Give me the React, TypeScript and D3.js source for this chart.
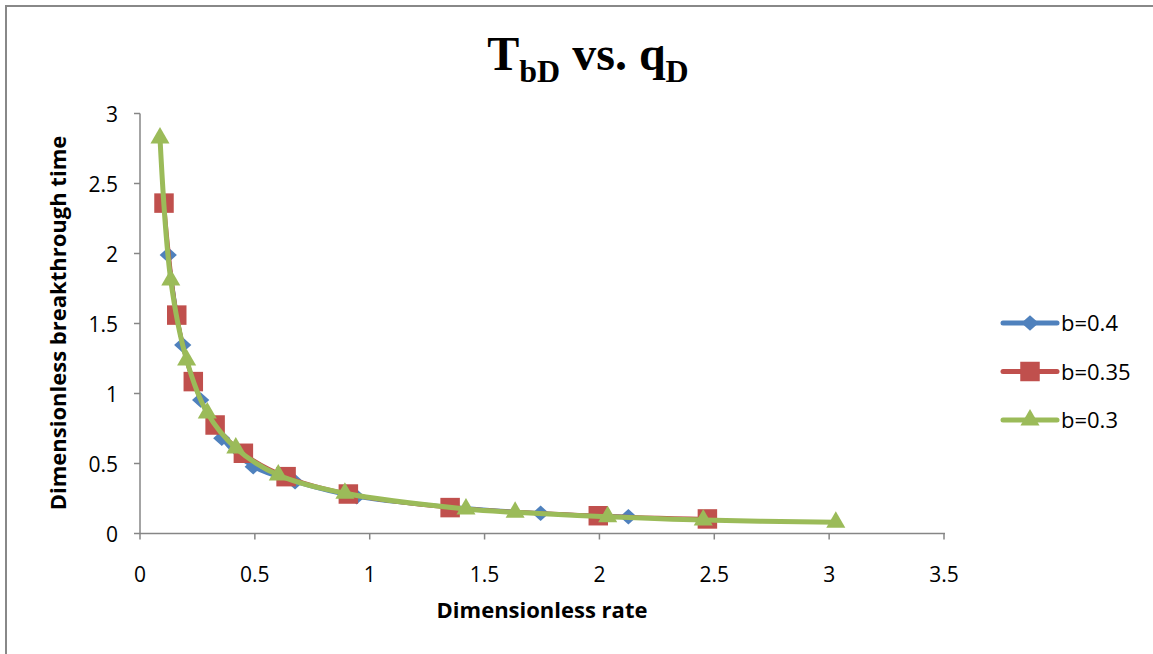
import React from "react";
import * as d3 from "d3";

// Dimensionless rate (x) and breakthrough time (y) for each b value
const qB04 = [0.123, 0.186, 0.264, 0.356, 0.493, 0.675, 0.943, 1.744, 2.126];
const tB04 = [1.99, 1.346, 0.954, 0.68, 0.477, 0.37, 0.263, 0.144, 0.12];

const qB035 = [0.1045, 0.16, 0.232, 0.327, 0.45, 0.636, 0.907, 1.35, 1.995, 2.47];
const tB035 = [2.36, 1.56, 1.085, 0.775, 0.573, 0.406, 0.282, 0.185, 0.127, 0.104];

const qB03 = [0.087, 0.134, 0.203, 0.293, 0.417, 0.602, 0.892, 1.419, 1.633, 2.036, 2.452, 3.029];
const tB03 = [2.825, 1.81, 1.24, 0.86, 0.61, 0.418, 0.287, 0.175, 0.151, 0.12, 0.096, 0.08];

const xTicks = [0, 0.5, 1, 1.5, 2, 2.5, 3, 3.5];
const yTicks = [0, 0.5, 1, 1.5, 2, 2.5, 3];

const seriesNames = ["b=0.4", "b=0.35", "b=0.3"];

type Marker = "diamond" | "square" | "triangle";

const series = [
  { name: seriesNames[0], q: qB04, t: tB04, color: "#4F81BD", marker: "diamond" as Marker, width: 4 },
  { name: seriesNames[1], q: qB035, t: tB035, color: "#C0504D", marker: "square" as Marker, width: 4 },
  { name: seriesNames[2], q: qB03, t: tB03, color: "#9BBB59", marker: "triangle" as Marker, width: 5 },
];

const W = 1153;
const H = 654;
const plot = { left: 140, right: 944, top: 113.5, bottom: 533.5 };

const x = d3.scaleLinear().domain([0, 3.5]).range([plot.left, plot.right]);
const y = d3.scaleLinear().domain([0, 3]).range([plot.bottom, plot.top]);

const symbolFor = (m: Marker) => {
  if (m === "diamond") return d3.symbol().type(d3.symbolDiamond2).size(190)();
  if (m === "square") return d3.symbol().type(d3.symbolSquare).size(380)();
  return d3.symbol().type(d3.symbolTriangle2).size(260)();
};

const MarkerShape = ({ m, cx, cy, color }: { m: Marker; cx: number; cy: number; color: string }) => {
  const path = symbolFor(m) || "";
  let transform = `translate(${cx},${cy})`;
  if (m === "diamond") transform += " scale(1,0.9)";
  return <path d={path} transform={transform} fill={color} />;
};

export default function App() {
  const axisColor = "#868686";
  const sans = "'Open Sans', 'Noto Sans', sans-serif";
  const line = d3
    .line<[number, number]>()
    .x((d) => x(d[0]))
    .y((d) => y(d[1]))
    .curve(d3.curveCatmullRom.alpha(0.5));

  return (
    <svg
      width={W}
      height={H}
      style={{ position: "absolute", left: 0, top: 0, background: "#fff" }}
      fontFamily={sans}
    >
      {/* chart frame */}
      <line x1={6} y1={6} x2={W} y2={6} stroke="#888" strokeWidth={2} />
      <line x1={6} y1={5} x2={6} y2={H} stroke="#888" strokeWidth={2} />

      {/* title */}
      <text x={588} y={70} textAnchor="middle" fontFamily="'Liberation Serif', 'Times New Roman', serif" fontWeight="bold" fontSize={48}>
        T
        <tspan fontSize={32} dy={12}>bD</tspan>
        <tspan dy={-12}> vs. q</tspan>
        <tspan fontSize={32} dy={12}>D</tspan>
      </text>

      {/* axes */}
      <line x1={plot.left} y1={plot.bottom} x2={plot.right + 1} y2={plot.bottom} stroke={axisColor} strokeWidth={1.5} />
      <line x1={plot.left} y1={plot.top} x2={plot.left} y2={plot.bottom} stroke={axisColor} strokeWidth={1.5} />
      {xTicks.map((v) => (
        <g key={"x" + v}>
          <line x1={x(v)} x2={x(v)} y1={plot.bottom} y2={plot.bottom + 6} stroke={axisColor} strokeWidth={1.5} />
          <text x={x(v)} y={plot.bottom + 48} textAnchor="middle" fontSize={21} fill="#000">
            {v}
          </text>
        </g>
      ))}
      {yTicks.map((v) => (
        <g key={"y" + v}>
          <line x1={plot.left - 6} x2={plot.left} y1={y(v)} y2={y(v)} stroke={axisColor} strokeWidth={1.5} />
          <text x={plot.left - 22} y={y(v) + 8} textAnchor="end" fontSize={21} fill="#000">
            {v}
          </text>
        </g>
      ))}

      {/* axis titles */}
      <text x={542} y={618} textAnchor="middle" fontWeight="bold" fontSize={22}>
        Dimensionless rate
      </text>
      <text transform="translate(66,323) rotate(-90)" textAnchor="middle" fontWeight="bold" fontSize={22}>
        Dimensionless breakthrough time
      </text>

      {/* series */}
      {series.map((s) => {
        const pts = s.q.map((q, i) => [q, s.t[i]] as [number, number]);
        return (
          <g key={s.name}>
            <path d={line(pts) || ""} fill="none" stroke={s.color} strokeWidth={s.width} strokeLinejoin="round" />
            {pts.map((p, i) => (
              <MarkerShape key={i} m={s.marker} cx={x(p[0])} cy={y(p[1])} color={s.color} />
            ))}
          </g>
        );
      })}

      {/* legend */}
      {series.map((s, i) => {
        const ly = 323 + i * 48.5;
        return (
          <g key={"lg" + s.name}>
            <line x1={1003} x2={1057} y1={ly} y2={ly} stroke={s.color} strokeWidth={5} strokeLinecap="round" />
            <MarkerShape m={s.marker} cx={1030} cy={ly} color={s.color} />
            <text x={1061} y={ly + 8} fontSize={22} fill="#000">
              {s.name}
            </text>
          </g>
        );
      })}
    </svg>
  );
}
